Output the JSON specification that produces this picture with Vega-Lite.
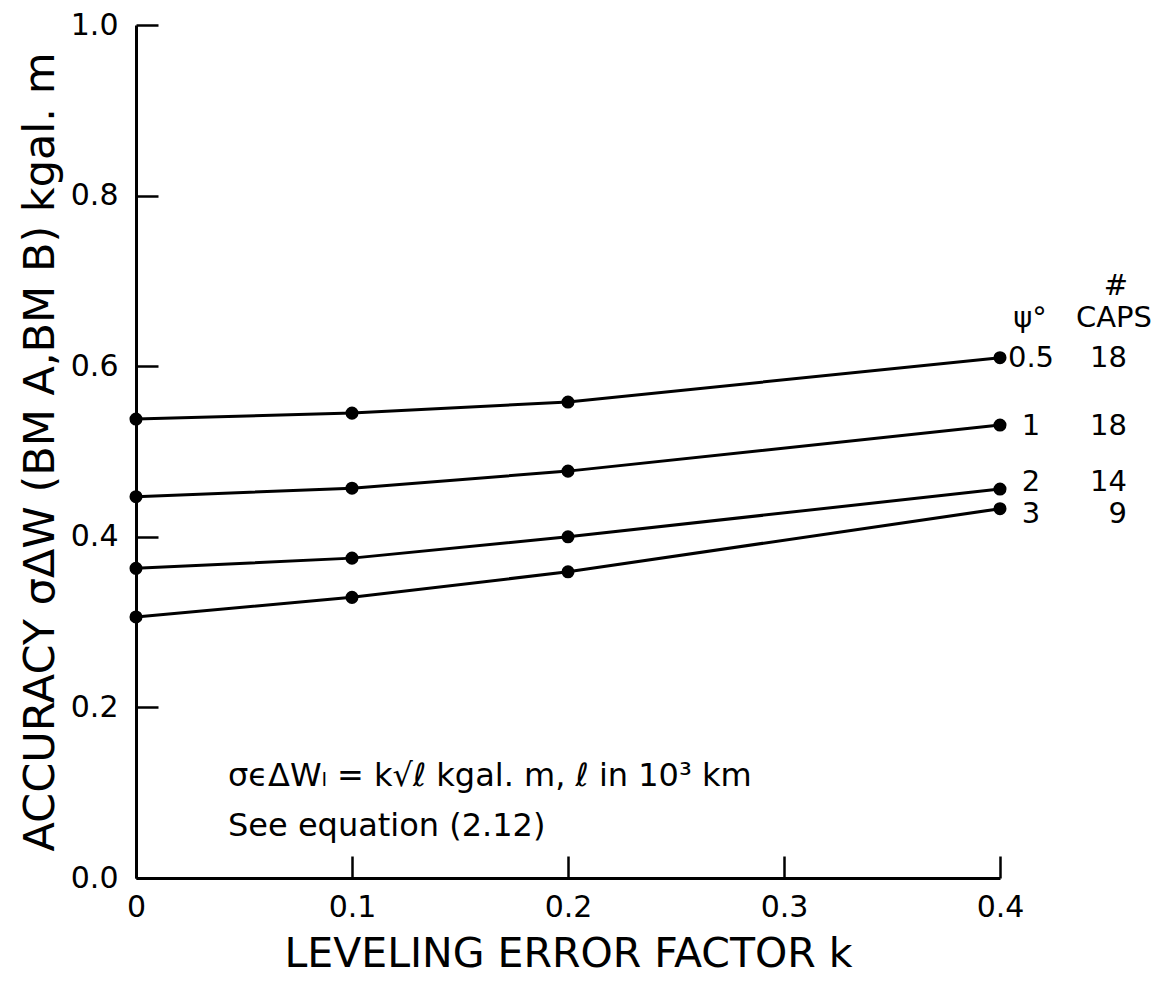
{
  "$schema": "https://vega.github.io/schema/vega-lite/v6.json",
  "width": 864,
  "height": 853,
  "autosize": "none",
  "padding": {"left": 136, "top": 25, "right": 159, "bottom": 108},
  "background": "white",
  "config": {
    "view": {"stroke": null},
    "font": "DejaVu Sans",
    "text": {"fontWeight": "normal", "color": "black"},
    "axis": {
      "domainColor": "black", "domainWidth": 3,
      "tickColor": "black", "tickWidth": 2.5, "tickSize": -22,
      "labelColor": "black", "titleColor": "black",
      "labelFont": "DejaVu Sans", "titleFont": "DejaVu Sans",
      "titleFontWeight": "normal", "grid": false, "labelFlush": false
    }
  },
  "datasets": {
    "curves": [
      {"k": 0.0, "acc": 0.538, "psi": "0.5"},
      {"k": 0.1, "acc": 0.545, "psi": "0.5"},
      {"k": 0.2, "acc": 0.558, "psi": "0.5"},
      {"k": 0.4, "acc": 0.610, "psi": "0.5"},
      {"k": 0.0, "acc": 0.447, "psi": "1"},
      {"k": 0.1, "acc": 0.457, "psi": "1"},
      {"k": 0.2, "acc": 0.477, "psi": "1"},
      {"k": 0.4, "acc": 0.531, "psi": "1"},
      {"k": 0.0, "acc": 0.363, "psi": "2"},
      {"k": 0.1, "acc": 0.375, "psi": "2"},
      {"k": 0.2, "acc": 0.400, "psi": "2"},
      {"k": 0.4, "acc": 0.456, "psi": "2"},
      {"k": 0.0, "acc": 0.306, "psi": "3"},
      {"k": 0.1, "acc": 0.329, "psi": "3"},
      {"k": 0.2, "acc": 0.359, "psi": "3"},
      {"k": 0.4, "acc": 0.433, "psi": "3"}
    ],
    "endLabels": [
      {"k": 0.4, "acc": 0.610, "psi": "0.5", "caps": "18"},
      {"k": 0.4, "acc": 0.530, "psi": "1", "caps": "18"},
      {"k": 0.4, "acc": 0.464, "psi": "2", "caps": "14"},
      {"k": 0.4, "acc": 0.427, "psi": "3", "caps": "9"}
    ],
    "headers": [
      {"k": 0.4, "acc": 0.657, "psiHead": "ψ°", "capsHead": "CAPS", "hash": "#", "hashAcc": 0.694}
    ],
    "notes": [
      {"k": 0.0426, "acc": 0.12, "note": "σϵΔWₗ = k√ℓ  kgal. m, ℓ in 10³ km"},
      {"k": 0.0426, "acc": 0.061, "note": "See equation (2.12)"}
    ]
  },
  "encoding": {
    "x": {"field": "k", "type": "quantitative",
      "scale": {"domain": [0, 0.4], "nice": false, "zero": false},
      "axis": {"values": [0, 0.1, 0.2, 0.3, 0.4], "labelExpr": "datum.value == 0 ? '0' : format(datum.value, '.1f')",
        "labelFontSize": 30, "labelPadding": 36, "title": "LEVELING ERROR FACTOR k", "titleFontSize": 41, "titlePadding": 12}},
    "y": {"field": "acc", "type": "quantitative",
      "scale": {"domain": [0, 1], "nice": false},
      "axis": {"values": [0, 0.2, 0.4, 0.6, 0.8, 1.0], "format": ".1f",
        "labelFontSize": 30, "labelPadding": 40, "title": "ACCURACY σΔW (BM A,BM B) kgal. m", "titleFontSize": 43, "titlePadding": 8}}
  },
  "layer": [
    {"data": {"name": "curves"},
     "mark": {"type": "line", "color": "black", "strokeWidth": 3}, "encoding": {"detail": {"field": "psi"}}},
    {"data": {"name": "curves"},
     "mark": {"type": "point", "filled": true, "color": "black", "opacity": 1, "size": 170}},
    {"data": {"name": "endLabels"},
     "mark": {"type": "text", "align": "center", "baseline": "middle", "dx": 31, "fontSize": 29},
     "encoding": {"text": {"field": "psi"}}},
    {"data": {"name": "endLabels"},
     "mark": {"type": "text", "align": "right", "baseline": "middle", "dx": 127, "fontSize": 29},
     "encoding": {"text": {"field": "caps"}}},
    {"data": {"name": "headers"},
     "mark": {"type": "text", "align": "center", "baseline": "middle", "dx": 30, "fontSize": 29},
     "encoding": {"text": {"field": "psiHead"}}},
    {"data": {"name": "headers"},
     "mark": {"type": "text", "align": "center", "baseline": "middle", "dx": 114, "fontSize": 29},
     "encoding": {"text": {"field": "capsHead"}}},
    {"data": {"name": "headers"},
     "mark": {"type": "text", "align": "center", "baseline": "middle", "dx": 116, "fontSize": 29},
     "encoding": {"text": {"field": "hash"}, "y": {"field": "hashAcc", "type": "quantitative"}}},
    {"data": {"name": "notes"},
     "mark": {"type": "text", "align": "left", "baseline": "middle", "fontSize": 32},
     "encoding": {"text": {"field": "note"}}}
  ]
}
